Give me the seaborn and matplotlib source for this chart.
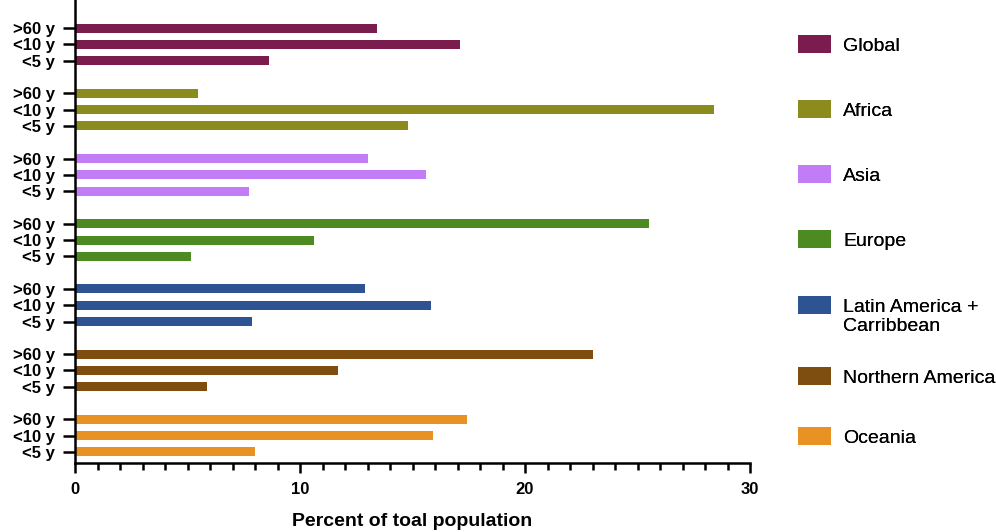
import matplotlib
matplotlib.use("Agg")
import matplotlib.pyplot as plt
from matplotlib.patches import Patch
from matplotlib.ticker import MultipleLocator
import seaborn as sns
import pandas as pd

# ---- data ----
regions = ["Global", "Africa", "Asia", "Europe", "Latin America +\nCarribbean",
           "Northern America", "Oceania"]
age_groups = [">60 y", "<10 y", "<5 y"]
over60 = [13.4, 5.45, 13.0, 25.5, 12.9, 23.0, 17.4]
under10 = [17.1, 28.4, 15.6, 10.6, 15.8, 11.7, 15.9]
under5 = [8.6, 14.8, 7.75, 5.15, 7.85, 5.85, 8.0]
colors = ["#7B1C4E", "#8B8B1E", "#C27CF5", "#4E8A22", "#2E5393", "#7E4D10", "#E89224"]

rows = []
for g, reg in enumerate(regions):
    for i, (age, vals) in enumerate(zip(age_groups, [over60, under10, under5])):
        rows.append({"region": reg, "age": age, "pos": g * 4 + i, "value": vals[g]})
df = pd.DataFrame(rows)

sns.set_theme(style="white")
plt.rcParams["font.family"] = ["Liberation Sans", "DejaVu Sans"]
plt.rcParams["text.color"] = "black"

fig = plt.figure(figsize=(9.96, 5.32), dpi=100)
ax = fig.add_axes([75 / 996, 69 / 532, 675 / 996, 463 / 532])

sns.barplot(data=df, x="value", y="pos", hue="region", orient="y", native_scale=True,
            dodge=False, palette=dict(zip(regions, colors)), width=0.55, saturation=1,
            legend=False, ax=ax, linewidth=0)

ax.set_xlim(0, 30)
ax.set_ylim(26 + 0.68, -1.73)
ax.set_yticks(df["pos"].tolist())
ax.set_yticklabels(df["age"].tolist(), fontsize=12, fontweight="bold")
ax.xaxis.set_major_locator(MultipleLocator(10))
ax.xaxis.set_minor_locator(MultipleLocator(1))
for lab in ax.get_xticklabels():
    lab.set_fontweight("bold")
    lab.set_fontsize(12)
ax.tick_params(axis="x", which="major", length=7.5, width=1.8, pad=6, bottom=True,
               color="black", labelcolor="black")
ax.tick_params(axis="x", which="minor", length=5, width=1.8, bottom=True, color="black")
ax.tick_params(axis="y", which="major", length=8.5, width=1.8, pad=6, left=True,
               color="black", labelcolor="black")
for s in ["top", "right"]:
    ax.spines[s].set_visible(False)
for s in ["left", "bottom"]:
    ax.spines[s].set_linewidth(1.8)
    ax.spines[s].set_color("black")
ax.set_ylabel("")
ax.set_xlabel("Percent of toal population", fontsize=14, fontweight="bold", labelpad=12,
              color="black")

# legend: one small legend per entry, placed at the reference row centres
centres_px = [45, 110, 175, 240, 317, 377, 437]
for reg, col, yc in zip(regions, colors, centres_px):
    lg = fig.legend([Patch(facecolor=col, edgecolor="none")], [reg], loc="center left",
                    bbox_to_anchor=(798 / 996, 1 - yc / 532), frameon=False, fontsize=14,
                    handlelength=1.7, handleheight=1.0, handletextpad=0.62,
                    borderaxespad=0, borderpad=0, labelcolor="black")
    if "\n" in reg:
        h = lg.legend_handles[0]
        h.set_y(h.get_y() + 8.5)
    fig.add_artist(lg)

fig.savefig("out.png", dpi=100)
